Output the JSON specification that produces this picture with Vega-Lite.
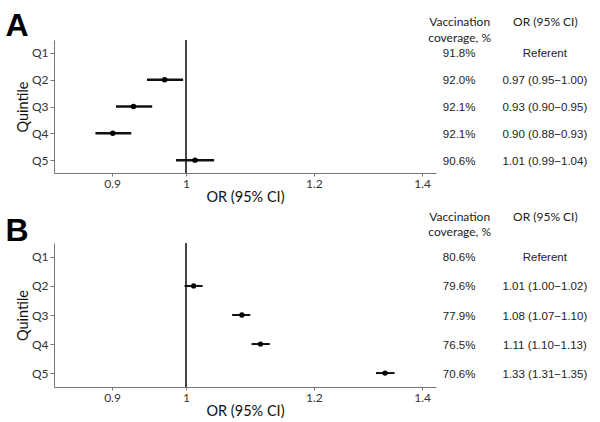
{
  "$schema": "https://vega.github.io/schema/vega-lite/v6.json",
  "padding": {"left": 5, "top": 10, "right": 0, "bottom": 0},
  "background": "white",
  "datasets": {
    "a": [
      {"q": "Q1", "or": null, "lo": null, "hi": null, "Vaccination coverage": "91.8%", "OR text": "Referent"},
      {"q": "Q2", "or": 0.970, "lo": 0.946, "hi": 0.996, "Vaccination coverage": "92.0%", "OR text": "0.97 (0.95−1.00)"},
      {"q": "Q3", "or": 0.928, "lo": 0.905, "hi": 0.953, "Vaccination coverage": "92.1%", "OR text": "0.93 (0.90−0.95)"},
      {"q": "Q4", "or": 0.901, "lo": 0.879, "hi": 0.925, "Vaccination coverage": "92.1%", "OR text": "0.90 (0.88−0.93)"},
      {"q": "Q5", "or": 1.013, "lo": 0.986, "hi": 1.041, "Vaccination coverage": "90.6%", "OR text": "1.01 (0.99−1.04)"}
    ],
    "b": [
      {"q": "Q1", "or": null, "lo": null, "hi": null, "Vaccination coverage": "80.6%", "OR text": "Referent"},
      {"q": "Q2", "or": 1.011, "lo": 0.998, "hi": 1.024, "Vaccination coverage": "79.6%", "OR text": "1.01 (1.00−1.02)"},
      {"q": "Q3", "or": 1.083, "lo": 1.068, "hi": 1.096, "Vaccination coverage": "77.9%", "OR text": "1.08 (1.07−1.10)"},
      {"q": "Q4", "or": 1.112, "lo": 1.098, "hi": 1.127, "Vaccination coverage": "76.5%", "OR text": "1.11 (1.10−1.13)"},
      {"q": "Q5", "or": 1.328, "lo": 1.311, "hi": 1.346, "Vaccination coverage": "70.6%", "OR text": "1.33 (1.31−1.35)"}
    ]
  },
  "config": {
    "view": {"stroke": null},
    "axis": {
      "labelFont": "Lato", "titleFont": "Lato", "labelFontSize": 12, "titleFontSize": 14.5,
      "titleFontWeight": "normal", "labelColor": "#333", "titleColor": "#111",
      "domainColor": "#777", "tickColor": "#777", "grid": false, "tickSize": 4, "labelPadding": 2
    }
  },
  "spacing": 6,
  "vconcat": [
    {
      "bounds": "flush",
      "spacing": 0,
      "hconcat": [
        {
          "width": 382, "height": 133,
          "title": {"text": "A", "anchor": "start", "frame": "bounds", "font": "Liberation Sans", "fontSize": 32, "fontWeight": "bold", "color": "#000", "dx": -10, "offset": -4},
          "data": {"name": "a"},
          "encoding": {
            "y": {"field": "q", "type": "ordinal", "scale": {"type": "point", "padding": 0.48, "domain": ["Q1", "Q2", "Q3", "Q4", "Q5"]}, "axis": {"title": "Quintile", "titlePadding": 1}}
          },
          "layer": [
            {"mark": {"type": "rule", "color": "#444", "strokeWidth": 1.2}, "encoding": {"x": {"datum": 1, "type": "quantitative"}, "y": null}},
            {"transform": [{"filter": "datum.or != null"}], "mark": {"type": "rule", "color": "#111", "strokeWidth": 2.5},
             "encoding": {"x": {"field": "lo", "type": "quantitative"}, "x2": {"field": "hi"}}},
            {"transform": [{"filter": "datum.or != null"}], "mark": {"type": "point", "filled": true, "color": "#000", "opacity": 1, "size": 30},
             "encoding": {"x": {"field": "or", "type": "quantitative", "title": "OR (95% CI)",
               "scale": {"type": "log", "domain": [0.8286, 1.428], "nice": false, "zero": false},
               "axis": {"values": [0.9, 1, 1.2, 1.4], "format": "~g", "tickSize": 3, "titlePadding": 1}}}}
          ]
        },
        {
          "width": 132, "height": 133,
          "data": {"name": "a"},
          "transform": [{"fold": ["Vaccination coverage", "OR text"], "as": ["key", "value"]}],
          "mark": {"type": "text", "font": "Liberation Sans", "fontSize": 11.5, "color": "#222", "dy": 1.5},
          "encoding": {
            "x": {"field": "key", "type": "nominal", "sort": ["Vaccination coverage", "OR text"],
              "scale": {"type": "point", "padding": 0.27},
              "axis": {"orient": "top", "title": null, "domain": false, "ticks": false, "labelAngle": 0,
                "labelFont": "Lato", "labelFontSize": 12, "labelColor": "#222", "labelPadding": 12, "labelLineHeight": 16,
                "labelExpr": "datum.value == 'OR text' ? ['OR (95% CI)', ' '] : ['Vaccination', 'coverage, %']"}},
            "y": {"field": "q", "type": "ordinal", "scale": {"type": "point", "padding": 0.48, "domain": ["Q1", "Q2", "Q3", "Q4", "Q5"]}, "axis": null},
            "text": {"field": "value"}
          }
        }
      ]
    },
    {
      "bounds": "flush",
      "spacing": 0,
      "hconcat": [
        {
          "width": 382, "height": 144,
          "title": {"text": "B", "anchor": "start", "frame": "bounds", "font": "Liberation Sans", "fontSize": 32, "fontWeight": "bold", "color": "#000", "dx": -10, "offset": -6},
          "data": {"name": "b"},
          "encoding": {
            "y": {"field": "q", "type": "ordinal", "scale": {"type": "point", "padding": 0.48, "domain": ["Q1", "Q2", "Q3", "Q4", "Q5"]}, "axis": {"title": "Quintile", "titlePadding": 1}}
          },
          "layer": [
            {"mark": {"type": "rule", "color": "#444", "strokeWidth": 1.2}, "encoding": {"x": {"datum": 1, "type": "quantitative"}, "y": null}},
            {"transform": [{"filter": "datum.or != null"}], "mark": {"type": "rule", "color": "#111", "strokeWidth": 2},
             "encoding": {"x": {"field": "lo", "type": "quantitative"}, "x2": {"field": "hi"}}},
            {"transform": [{"filter": "datum.or != null"}], "mark": {"type": "point", "filled": true, "color": "#000", "opacity": 1, "size": 28},
             "encoding": {"x": {"field": "or", "type": "quantitative", "title": "OR (95% CI)",
               "scale": {"type": "log", "domain": [0.8286, 1.428], "nice": false, "zero": false},
               "axis": {"values": [0.9, 1, 1.2, 1.4], "format": "~g", "tickSize": 3, "titlePadding": 1}}}}
          ]
        },
        {
          "width": 132, "height": 144,
          "data": {"name": "b"},
          "transform": [{"fold": ["Vaccination coverage", "OR text"], "as": ["key", "value"]}],
          "mark": {"type": "text", "font": "Liberation Sans", "fontSize": 11.5, "color": "#222", "dy": 1.5},
          "encoding": {
            "x": {"field": "key", "type": "nominal", "sort": ["Vaccination coverage", "OR text"],
              "scale": {"type": "point", "padding": 0.27},
              "axis": {"orient": "top", "title": null, "domain": false, "ticks": false, "labelAngle": 0,
                "labelFont": "Lato", "labelFontSize": 12, "labelColor": "#222", "labelPadding": 20, "labelLineHeight": 15,
                "labelExpr": "datum.value == 'OR text' ? ['OR (95% CI)', ' '] : ['Vaccination', 'coverage, %']"}},
            "y": {"field": "q", "type": "ordinal", "scale": {"type": "point", "padding": 0.48, "domain": ["Q1", "Q2", "Q3", "Q4", "Q5"]}, "axis": null},
            "text": {"field": "value"}
          }
        }
      ]
    }
  ]
}
